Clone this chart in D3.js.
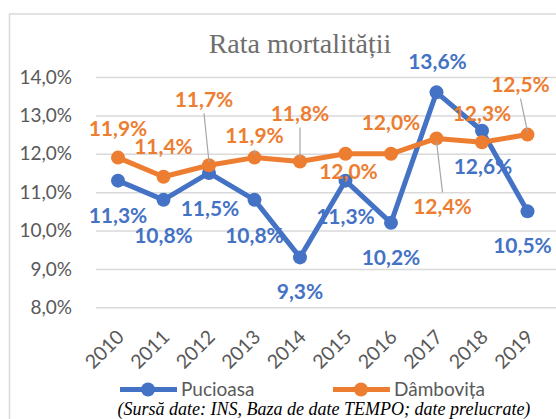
<!doctype HTML>
<html>
<head>
    <style>
        body { margin: 0; background: white; }
        svg { display: block; }
    </style>
    <script src="https://d3js.org/d3.v7.min.js"></script>
</head>
<body>
<script>
    var years = ["2010", "2011", "2012", "2013", "2014", "2015", "2016", "2017", "2018", "2019"];
    var pucioasa = [11.3, 10.8, 11.5, 10.8, 9.3, 11.3, 10.2, 13.6, 12.6, 10.5];
    var dambovita = [11.9, 11.4, 11.7, 11.9, 11.8, 12.0, 12.0, 12.4, 12.3, 12.5];
    var yTicks = [8, 9, 10, 11, 12, 13, 14];
    var seriesNames = ["Pucioasa", "Dâmbovița"];

    // label offsets from the point (dx, dy), leader = draw a line back to the point
    var blueLabels = [[0,35],[0,36],[1,35],[0,36],[0,34],[0,36],[0,35],[1,-31],[1,36],[-5,34]];
    var orangeLabels = [[0,-29],[0,-30],[-5,-66,1],[0,-22,1],[0,-48,1],[3,18],[0,-31],[6,68,1],[0,-29],[-7,-50,1]];

    var canvasWidth = 556;
    var canvasHeight = 419;
    var blue = "#4472C4";
    var orange = "#ED7D31";
    var sans = "Lato, 'Open Sans', sans-serif";

    var svg = d3.select("body").append("svg")
        .attr("width", canvasWidth)
        .attr("height", canvasHeight)

    // chart border (runs off the right / bottom of the picture)
    svg.append("rect")
        .attr("x", 9.5)
        .attr("y", 14)
        .attr("width", 600)
        .attr("height", 500)
        .attr("fill", "white")
        .attr("stroke", "#d9d9d9")
        .attr("stroke-width", 1.5)

    var xScale = d3.scalePoint().domain(years).range([118, 527.5]);
    var yScale = d3.scaleLinear().domain([8, 14]).range([307.3, 77]);
    var plotLeft = 96;

    var fmt = function(v) { return d3.format(".1f")(v).replace(".", ",") + "%"; };

    svg.append("text")
        .attr("x", 300)
        .attr("y", 53)
        .attr("text-anchor", "middle")
        .style("font-family", "'Liberation Serif', serif")
        .style("font-size", "28px")
        .style("fill", "#6e6e6e")
        .text("Rata mortalității")

    // Y axis + gridlines
    var yAxis = svg.append("g")
        .attr("transform", "translate(" + plotLeft + ",0)")
        .call(d3.axisLeft(yScale).tickValues(yTicks).tickFormat(fmt)
            .tickSize(-(canvasWidth - plotLeft)).tickPadding(24))
    yAxis.select(".domain").remove();
    yAxis.selectAll("line").attr("stroke", "#d9d9d9").attr("stroke-width", 1.5);
    yAxis.selectAll("text")
        .style("font-family", sans)
        .style("font-size", "19px")
        .style("fill", "#595959")

    // X axis, rotated years
    var xAxis = svg.append("g")
        .attr("transform", "translate(0," + yScale(8) + ")")
        .call(d3.axisBottom(xScale).tickSize(0))
    xAxis.select(".domain").remove();
    xAxis.selectAll("text")
        .attr("x", 0)
        .attr("y", 0)
        .attr("dy", "0.35em")
        .attr("text-anchor", "end")
        .attr("transform", "translate(2,26) rotate(-45)")
        .style("font-family", sans)
        .style("font-size", "19.5px")
        .style("fill", "#595959")

    var line = d3.line()
        .x(function(d, i) { return xScale(years[i]); })
        .y(function(d) { return yScale(d); });

    var drawSeries = function(values, color) {
        svg.append("path")
            .datum(values)
            .attr("d", line)
            .attr("fill", "none")
            .attr("stroke", color)
            .attr("stroke-width", 5)
            .attr("stroke-linejoin", "round")
        svg.selectAll(null)
            .data(values)
            .enter()
            .append("circle")
                .attr("cx", function(d, i) { return xScale(years[i]); })
                .attr("cy", function(d) { return yScale(d); })
                .attr("r", 7)
                .attr("fill", color)
    };

    drawSeries(pucioasa, blue);
    drawSeries(dambovita, orange);

    var drawLabels = function(values, offsets, color) {
        values.forEach(function(v, i) {
            var px = xScale(years[i]), py = yScale(v);
            var o = offsets[i];
            var lx = px + o[0], ly = py + o[1];
            if (o[2]) {
                var s = o[1] < 0 ? 1 : -1;
                svg.append("line")
                    .attr("x1", lx)
                    .attr("y1", ly + s * 14)
                    .attr("x2", px)
                    .attr("y2", py - s * 3)
                    .attr("stroke", "#a6a6a6")
                    .attr("stroke-width", 1.2)
            }
            svg.append("text")
                .attr("x", lx)
                .attr("y", ly)
                .attr("dy", "0.36em")
                .attr("text-anchor", "middle")
                .style("font-family", sans)
                .style("font-weight", "bold")
                .style("font-size", "21px")
                .style("fill", color)
                .text(fmt(v))
        });
    };

    drawLabels(pucioasa, blueLabels, blue);
    drawLabels(dambovita, orangeLabels, orange);

    // legend
    var legend = svg.selectAll("g.legend")
        .data(seriesNames)
        .enter()
        .append("g")
            .attr("class", "legend")
            .attr("transform", function(d, i) { return "translate(" + (120 + i * 213) + ",389.5)"; })
    legend.append("line")
        .attr("x1", 0)
        .attr("x2", 57)
        .attr("stroke", function(d, i) { return i ? orange : blue; })
        .attr("stroke-width", 5)
    legend.append("circle")
        .attr("cx", 28)
        .attr("r", 7)
        .attr("fill", function(d, i) { return i ? orange : blue; })
    legend.append("text")
        .attr("x", 61)
        .attr("dy", "0.35em")
        .style("font-family", sans)
        .style("font-size", "19px")
        .style("fill", "#595959")
        .text(function(d) { return d; })

    svg.append("text")
        .attr("x", 324)
        .attr("y", 414.5)
        .attr("text-anchor", "middle")
        .style("font-family", "'Liberation Serif', serif")
        .style("font-style", "italic")
        .style("font-size", "18px")
        .style("fill", "#000")
        .text("(Sursă date: INS, Baza de date TEMPO; date prelucrate)")

</script>
</body>
</html>
